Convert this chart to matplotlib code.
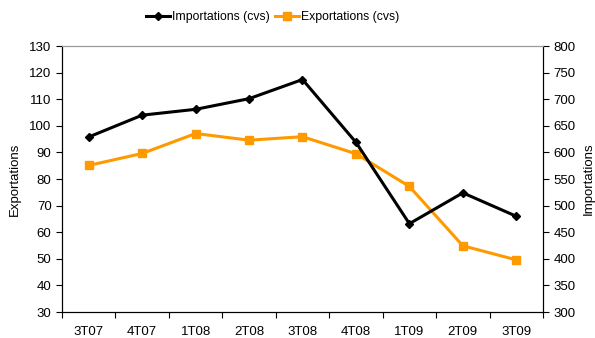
import numpy as np
import matplotlib
matplotlib.use("Agg")
import matplotlib.pyplot as plt
from matplotlib.ticker import FixedLocator

plt.rcParams["font.family"] = ["Liberation Sans", "DejaVu Sans"]

quarters = ["3T07", "4T07", "1T08", "2T08", "3T08", "4T08", "1T09", "2T09", "3T09"]
importations = [629, 670, 681, 701, 737, 619, 466, 524, 480]   # right axis
exportations = [85.1, 89.6, 97.1, 94.6, 95.9, 89.5, 77.2, 54.9, 49.6]  # left axis

BLACK = "#000000"
ORANGE = "#FF9900"
FS = 9.5

fig = plt.figure(figsize=(5.95, 3.38), dpi=100)
ax = fig.add_axes([0.1042, 0.0769, 0.8084, 0.787])
ax2 = ax.twinx()

x = np.arange(len(quarters))
lo, = ax.plot(x, exportations, color=ORANGE, lw=2.2, marker="s", ms=6,
              label="Exportations (cvs)", zorder=3)
li, = ax2.plot(x, importations, color=BLACK, lw=2.2, marker="D", ms=4.5,
               label="Importations (cvs)", zorder=4)

ax.set_xlim(-0.5, len(quarters) - 0.5)
ax.set_ylim(30, 130)
ax.set_yticks(np.arange(30, 131, 10))
ax2.set_ylim(300, 800)
ax2.set_yticks(np.arange(300, 801, 50))

# category labels sit between the tick marks
ax.xaxis.set_major_locator(FixedLocator(np.arange(-0.5, len(quarters), 1.0)))
ax.set_xticklabels([])
ax.set_xticks(x, minor=True)
ax.set_xticklabels(quarters, minor=True, fontsize=FS)
ax.tick_params(axis="x", which="minor", length=0, pad=10)
ax.tick_params(axis="x", which="major", length=4, direction="out", width=0.8)
ax.tick_params(axis="y", length=4, direction="out", labelsize=FS, width=0.8)
ax2.tick_params(axis="y", length=4, direction="out", labelsize=FS, width=0.8)

ax.set_ylabel("Exportations", fontsize=FS, labelpad=6)
ax2.set_ylabel("Importations", fontsize=FS, labelpad=5)

for a in (ax, ax2):
    a.spines["top"].set_color("#999999")
    for s in ("left", "right", "bottom"):
        a.spines[s].set_color(BLACK)
        a.spines[s].set_linewidth(0.8)

fig.legend(handles=[li, lo], loc="center", bbox_to_anchor=(0.458, 0.95), ncol=2,
           frameon=False, fontsize=8.8, handlelength=2.0, columnspacing=0.4,
           handletextpad=0.15)

fig.savefig("out.png", dpi=100)
